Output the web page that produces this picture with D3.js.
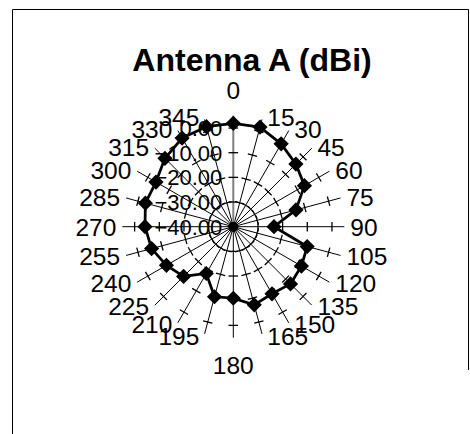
<!DOCTYPE html>
<html>
<head>
<meta charset="utf-8">
<script src="https://cdn.jsdelivr.net/npm/d3@7"></script>
<style>
  html, body { margin: 0; padding: 0; background: #fff; }
  svg { display: block; font-family: Arial, "Liberation Sans", sans-serif; }
</style>
</head>
<body>
<svg id="chart" width="470" height="434"></svg>
<script>
// Azimuth categories (degrees) and measured gain per azimuth (dBi)
const azimuths = [0, 15, 30, 45, 60, 75, 90, 105, 120, 135, 150, 165,
                  180, 195, 210, 225, 240, 255, 270, 285, 300, 315, 330, 345];
const gainDbi = [1.9, 1.8, -1.2, -4.1, -6.7, -13.7, -23.5, -9.0, -8.1, -7.2, -8.6, -7.2,
                 -11.0, -10.6, -18.1, -11.5, -8.7, -5.7, -4.2, -3.1, -3.8, -0.8, 1.5, 2.0];
const valueTicks = [-40, -30, -20, -10, 0];
const valueDomain = [-40, 5];
const chartTitle = "Antenna A (dBi)";

const svg = d3.select("#chart");
const W = 470, H = 434;
const cx = 233.3, cy = 226.7;

// frame
svg.append("rect").attr("x", 0).attr("y", 0).attr("width", W).attr("height", H).attr("fill", "#fff");
svg.append("path")
  .attr("d", `M12.5,${H + 2} L12.5,9.5 L468.5,9.5 L468.5,370`)
  .attr("fill", "none").attr("stroke", "#000").attr("stroke-width", 1);

// title
svg.append("text")
  .attr("x", 252).attr("y", 71)
  .attr("text-anchor", "middle")
  .attr("font-size", 32).attr("font-weight", "bold")
  .text(chartTitle);

const r = d3.scaleLinear().domain(valueDomain).range([0, 111]);
const ang = d3.scaleLinear().domain([0, 360]).range([0, 2 * Math.PI]);
const fmt = d3.format(".2f");

const g = svg.append("g").attr("transform", `translate(${cx},${cy})`);

const px = (a, v) => r(v) * Math.sin(ang(a));
const py = (a, v) => -r(v) * Math.cos(ang(a));

// spokes
g.selectAll("line.spoke").data(azimuths.filter(a => a !== 0)).join("line")
  .attr("class", "spoke")
  .attr("x1", 0).attr("y1", 0)
  .attr("x2", a => px(a, valueDomain[1])).attr("y2", a => py(a, valueDomain[1]))
  .attr("stroke", "#000").attr("stroke-width", 1);

// value axis along 0°
g.append("line")
  .attr("x1", 0).attr("y1", 0)
  .attr("x2", 0).attr("y2", py(0, valueDomain[1]))
  .attr("stroke", "#808080").attr("stroke-width", 2);

// cross tick marks on every spoke at each major value
const tickHalf = 4.8;
const tickData = [];
azimuths.forEach(a => valueTicks.forEach(v => tickData.push({ a, v })));
g.selectAll("line.tick").data(tickData).join("line")
  .attr("class", "tick")
  .attr("x1", d => px(d.a, d.v) - tickHalf * Math.cos(ang(d.a)))
  .attr("y1", d => py(d.a, d.v) - tickHalf * Math.sin(ang(d.a)))
  .attr("x2", d => px(d.a, d.v) + tickHalf * Math.cos(ang(d.a)))
  .attr("y2", d => py(d.a, d.v) + tickHalf * Math.sin(ang(d.a)))
  .attr("stroke", "#000").attr("stroke-width", 1.3);

// value labels
g.selectAll("text.vlab").data(valueTicks).join("text")
  .attr("class", "vlab")
  .attr("x", -11).attr("y", v => py(0, v))
  .attr("dy", "0.36em")
  .attr("text-anchor", "end")
  .attr("font-size", 22)
  .text(v => fmt(v));

// gain trace
const pts = azimuths.map((a, i) => [px(a, gainDbi[i]), py(a, gainDbi[i])]);
g.append("path")
  .attr("d", d3.line().curve(d3.curveLinearClosed)(pts))
  .attr("fill", "none").attr("stroke", "#000").attr("stroke-width", 2.75)
  .attr("stroke-linejoin", "round");

const m = 7.6;
g.selectAll("path.marker").data(pts).join("path")
  .attr("class", "marker")
  .attr("transform", d => `translate(${d[0]},${d[1]})`)
  .attr("d", `M0,${-m}L${m},0L0,${m}L${-m},0Z`)
  .attr("fill", "#000");

// azimuth labels: inner edge follows the spoke direction, centred vertically
const labelX = a => {
  const s = Math.sin(ang(a));
  return Math.sign(s) * 5 + 112 * s;
};
g.selectAll("text.clab").data(azimuths).join("text")
  .attr("class", "clab")
  .attr("font-size", 24.5)
  .attr("text-anchor", a => (a === 0 || a === 180) ? "middle" : (a < 180 ? "start" : "end"))
  .attr("x", a => (a === 0 || a === 180) ? 0 : labelX(a))
  .attr("y", a => a === 0 ? -137 : a === 180 ? 138 : -113 * Math.cos(ang(a)))
  .attr("dy", "0.36em")
  .text(a => String(a));
</script>
</body>
</html>
